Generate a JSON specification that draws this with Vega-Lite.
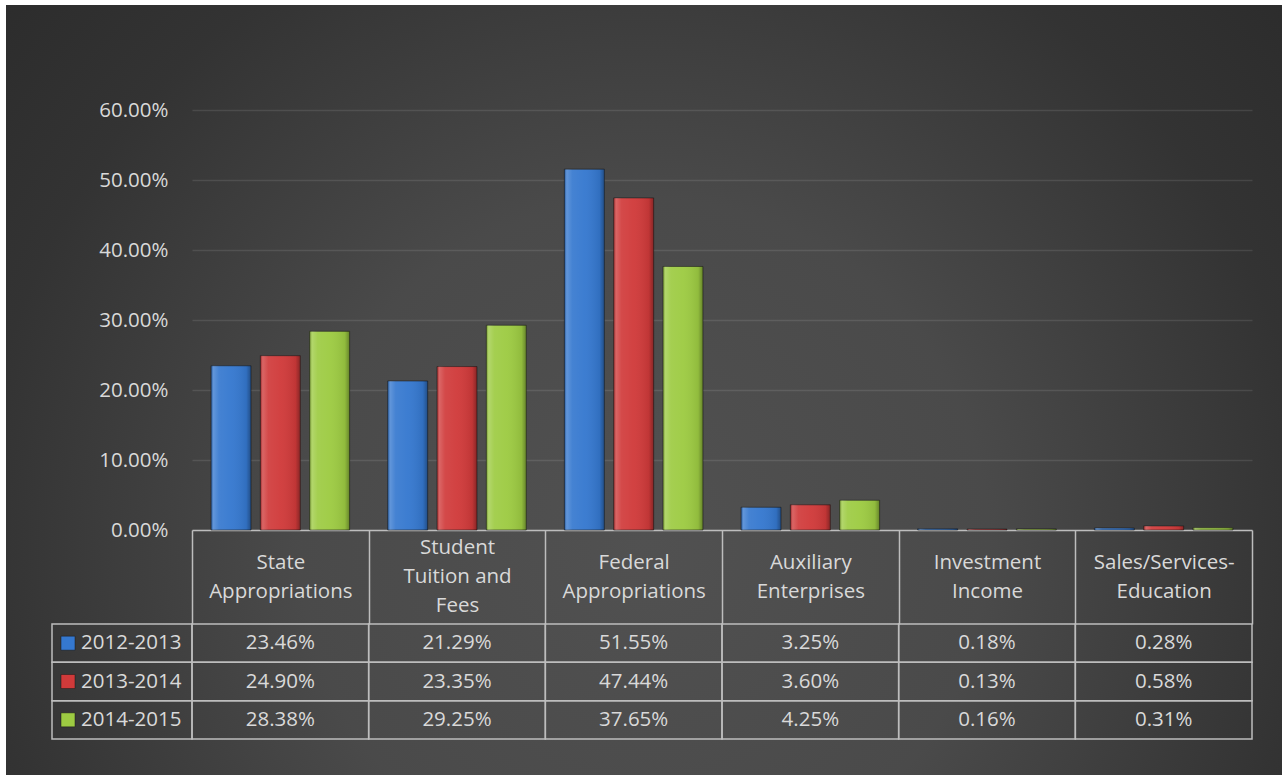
{
  "$schema": "https://vega.github.io/schema/vega-lite/v6.json",
  "width": 1276,
  "height": 770,
  "padding": {"left": 6, "top": 5, "right": 3, "bottom": 0},
  "autosize": {"type": "none"},
  "background": "#ffffff",
  "view": {
    "stroke": null,
    "fill": {
      "gradient": "radial",
      "x1": 0.5, "y1": 0.62, "x2": 0.5, "y2": 0.62, "r1": 0, "r2": 0.9,
      "stops": [
        {"offset": 0, "color": "#515151"},
        {"offset": 0.3, "color": "#4a4a4a"},
        {"offset": 0.58, "color": "#333333"},
        {"offset": 0.85, "color": "#272727"},
        {"offset": 1, "color": "#232323"}
      ]
    }
  },
  "config": {"font": "Open Sans"},
  "datasets": {
    "rev": [
      {"category": "State Appropriations", "series": "2012-2013", "value": 0.2346},
      {"category": "State Appropriations", "series": "2013-2014", "value": 0.2490},
      {"category": "State Appropriations", "series": "2014-2015", "value": 0.2838},
      {"category": "Student Tuition and Fees", "series": "2012-2013", "value": 0.2129},
      {"category": "Student Tuition and Fees", "series": "2013-2014", "value": 0.2335},
      {"category": "Student Tuition and Fees", "series": "2014-2015", "value": 0.2925},
      {"category": "Federal Appropriations", "series": "2012-2013", "value": 0.5155},
      {"category": "Federal Appropriations", "series": "2013-2014", "value": 0.4744},
      {"category": "Federal Appropriations", "series": "2014-2015", "value": 0.3765},
      {"category": "Auxiliary Enterprises", "series": "2012-2013", "value": 0.0325},
      {"category": "Auxiliary Enterprises", "series": "2013-2014", "value": 0.0360},
      {"category": "Auxiliary Enterprises", "series": "2014-2015", "value": 0.0425},
      {"category": "Investment Income", "series": "2012-2013", "value": 0.0018},
      {"category": "Investment Income", "series": "2013-2014", "value": 0.0013},
      {"category": "Investment Income", "series": "2014-2015", "value": 0.0016},
      {"category": "Sales/Services-Education", "series": "2012-2013", "value": 0.0028},
      {"category": "Sales/Services-Education", "series": "2013-2014", "value": 0.0058},
      {"category": "Sales/Services-Education", "series": "2014-2015", "value": 0.0031}
    ]
  },
  "data": {"name": "rev"},
  "resolve": {"scale": {"x": "independent", "y": "independent"}},
  "layer": [
    {
      "mark": {"type": "bar", "stroke": "#1a1a1a", "strokeWidth": 1, "strokeOpacity": 0.6},
      "encoding": {
        "x": {
          "field": "category", "type": "nominal",
          "scale": {"domain": ["State Appropriations", "Student Tuition and Fees", "Federal Appropriations", "Auxiliary Enterprises", "Investment Income", "Sales/Services-Education"], "range": [186, 1246], "paddingInner": 0, "paddingOuter": 0},
          "axis": {
            "orient": "bottom", "offset": -245, "title": null,
            "domain": true, "domainColor": "#bdbdbd", "domainWidth": 1.5,
            "ticks": true, "tickBand": "extent", "tickSize": 94, "tickColor": "#bdbdbd", "tickWidth": 1.5,
            "labelAngle": 0,
            "labelPadding": {"condition": {"test": "datum.value == 'Student Tuition and Fees'", "value": -77}, "value": -62},
            "labelBaseline": "middle", "labelAlign": "center",
            "labelFontSize": 20.5, "labelColor": "#d9d9d9", "labelLineHeight": 29, "labelLimit": 0,
            "labelExpr": "datum.value == 'State Appropriations' ? ['State', 'Appropriations'] : datum.value == 'Student Tuition and Fees' ? ['Student', 'Tuition and', 'Fees'] : datum.value == 'Federal Appropriations' ? ['Federal', 'Appropriations'] : datum.value == 'Auxiliary Enterprises' ? ['Auxiliary', 'Enterprises'] : datum.value == 'Investment Income' ? ['Investment', 'Income'] : datum.value == 'Sales/Services-Education' ? ['Sales/Services-', 'Education'] : ''",
            "grid": false
          }
        },
        "xOffset": {"field": "series", "type": "nominal", "scale": {"domain": ["2012-2013", "2013-2014", "2014-2015"], "paddingInner": 0.189, "paddingOuter": 0.386}},
        "y": {
          "field": "value", "type": "quantitative",
          "scale": {"domain": [0, 0.6], "range": [525, 105], "nice": false},
          "axis": {
            "orient": "left", "offset": -186, "title": null, "domain": false, "ticks": false,
            "values": [0, 0.1, 0.2, 0.3, 0.4, 0.5, 0.6], "format": ".2%",
            "labelPadding": 24, "labelFontSize": 20.5, "labelColor": "#d9d9d9",
            "grid": true, "gridColor": "#ffffff", "gridOpacity": 0.1, "gridWidth": 1.5
          }
        },
        "color": {"field": "series", "type": "nominal", "scale": {"domain": ["2012-2013", "2013-2014", "2014-2015"], "range": ["#3578cf", "#d03a3a", "#9dcb42"]}, "legend": null}
      }
    },
    {
      "mark": {
        "type": "bar",
        "fill": {
          "gradient": "linear", "x1": 0, "y1": 0, "x2": 1, "y2": 0,
          "stops": [
            {"offset": 0, "color": "rgba(0,0,0,0.25)"},
            {"offset": 0.06, "color": "rgba(255,255,255,0.22)"},
            {"offset": 0.2, "color": "rgba(255,255,255,0.08)"},
            {"offset": 0.5, "color": "rgba(255,255,255,0.04)"},
            {"offset": 0.88, "color": "rgba(0,0,0,0.08)"},
            {"offset": 1, "color": "rgba(0,0,0,0.35)"}
          ]
        }
      },
      "encoding": {
        "x": {
          "field": "category", "type": "nominal",
          "scale": {"domain": ["State Appropriations", "Student Tuition and Fees", "Federal Appropriations", "Auxiliary Enterprises", "Investment Income", "Sales/Services-Education"], "range": [186, 1246], "paddingInner": 0, "paddingOuter": 0},
          "axis": null
        },
        "xOffset": {"field": "series", "type": "nominal", "scale": {"domain": ["2012-2013", "2013-2014", "2014-2015"], "paddingInner": 0.189, "paddingOuter": 0.386}},
        "y": {"field": "value", "type": "quantitative", "scale": {"domain": [0, 0.6], "range": [525, 105], "nice": false}, "axis": null}
      }
    },
    {
      "mark": {"type": "rect", "filled": false, "stroke": "#bdbdbd", "strokeWidth": 1.5},
      "encoding": {
        "x": {
          "field": "category", "type": "nominal",
          "scale": {"domain": ["State Appropriations", "Student Tuition and Fees", "Federal Appropriations", "Auxiliary Enterprises", "Investment Income", "Sales/Services-Education"], "range": [186, 1246], "paddingInner": 0, "paddingOuter": 0},
          "axis": null
        },
        "y": {"field": "series", "type": "nominal", "scale": {"domain": ["2012-2013", "2013-2014", "2014-2015"], "range": [619, 734], "paddingInner": 0, "paddingOuter": 0}, "axis": null}
      }
    },
    {
      "mark": {"type": "text", "fontSize": 20.5, "color": "#d9d9d9", "baseline": "middle", "align": "center"},
      "encoding": {
        "x": {
          "field": "category", "type": "nominal",
          "scale": {"domain": ["State Appropriations", "Student Tuition and Fees", "Federal Appropriations", "Auxiliary Enterprises", "Investment Income", "Sales/Services-Education"], "range": [186, 1246], "paddingInner": 0, "paddingOuter": 0},
          "axis": null
        },
        "y": {"field": "series", "type": "nominal", "scale": {"domain": ["2012-2013", "2013-2014", "2014-2015"], "range": [619, 734], "paddingInner": 0, "paddingOuter": 0}, "axis": null},
        "text": {"field": "value", "type": "quantitative", "format": ".2%"}
      }
    },
    {
      "transform": [{"filter": "datum.category == 'State Appropriations'"}],
      "layer": [
        {
          "mark": {"type": "rect", "filled": false, "stroke": "#bdbdbd", "strokeWidth": 1.5}
        },
        {
          "mark": {"type": "text", "fontSize": 20.5, "color": "#d9d9d9", "baseline": "middle", "align": "left", "dx": -41},
          "encoding": {"text": {"field": "series"}}
        },
        {
          "mark": {"type": "point", "shape": "square", "filled": true, "size": 196, "opacity": 1, "xOffset": -54, "stroke": "#1a1a1a", "strokeWidth": 0.5},
          "encoding": {"color": {"field": "series", "type": "nominal", "legend": null}}
        }
      ],
      "encoding": {
        "x": {"field": "category", "type": "nominal", "scale": {"domain": ["State Appropriations"], "range": [46, 186], "paddingInner": 0, "paddingOuter": 0}, "axis": null},
        "y": {"field": "series", "type": "nominal", "scale": {"domain": ["2012-2013", "2013-2014", "2014-2015"], "range": [619, 734], "paddingInner": 0, "paddingOuter": 0}, "axis": null}
      }
    }
  ]
}
